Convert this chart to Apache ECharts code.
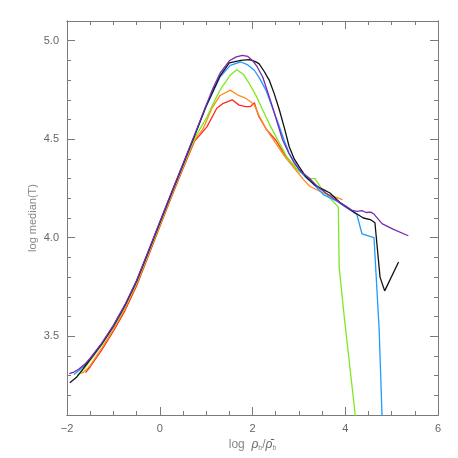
<!DOCTYPE html>
<html>
<head>
<meta charset="utf-8">
<script src="https://cdn.jsdelivr.net/npm/echarts@6/dist/echarts.min.js"></script>
<style>
html, body { margin: 0; padding: 0; background: #fff; }
#chart { width: 458px; height: 458px; }
</style>
</head>
<body>
<div id="chart"></div>
<script>
// tick labels
const xMajorTicks = [-2, 0, 2, 4, 6];
const yMajorTicks = [3.5, 4.0, 4.5, 5.0];

// curves, [log rho/mean rho, log median T]
const redLine = [
  [-1.6, 3.315], [-1.5, 3.345], [-1.25, 3.43], [-1.0, 3.525], [-0.75, 3.63], [-0.5, 3.755],
  [-0.25, 3.905], [0, 4.055], [0.25, 4.205], [0.5, 4.35], [0.75, 4.49], [0.87, 4.522], [1.02, 4.564],
  [1.23, 4.657], [1.37, 4.682], [1.56, 4.7], [1.71, 4.673], [1.85, 4.665], [1.95, 4.665],
  [2.04, 4.685], [2.1, 4.64], [2.14, 4.614], [2.3, 4.55], [2.5, 4.496], [2.7, 4.42], [2.96, 4.345]
];
const orangeLine = [
  [-1.72, 3.31], [-1.64, 3.318], [-1.55, 3.338], [-1.5, 3.352], [-1.25, 3.44], [-1.0, 3.535],
  [-0.75, 3.64], [-0.5, 3.764], [-0.25, 3.912], [0, 4.062], [0.25, 4.21], [0.5, 4.356], [0.75, 4.495],
  [0.94, 4.555], [1.12, 4.655], [1.3, 4.722], [1.52, 4.749], [1.7, 4.722], [1.85, 4.708], [1.96, 4.69],
  [2.04, 4.673], [2.14, 4.62], [2.3, 4.55], [2.5, 4.48], [2.7, 4.41], [2.96, 4.336], [3.1, 4.295],
  [3.24, 4.26], [3.53, 4.227], [3.75, 4.21], [3.94, 4.193]
];
const greenLine = [
  [-1.78, 3.302], [-1.7, 3.315], [-1.6, 3.345], [-1.5, 3.376], [-1.25, 3.455], [-1.0, 3.545],
  [-0.75, 3.65], [-0.5, 3.772], [-0.25, 3.92], [0, 4.07], [0.25, 4.218], [0.5, 4.364], [0.75, 4.505],
  [0.9, 4.565], [1.02, 4.614], [1.15, 4.68], [1.3, 4.749], [1.52, 4.825], [1.66, 4.853], [1.8, 4.83],
  [1.93, 4.783], [2.08, 4.72], [2.22, 4.648], [2.4, 4.56], [2.58, 4.48], [2.74, 4.41], [2.96, 4.345],
  [3.21, 4.3], [3.35, 4.3], [3.5, 4.244], [3.85, 4.155], [3.87, 3.848], [3.98, 3.594], [4.23, 3.07]
];
const blueLine = [
  [-1.85, 3.305], [-1.75, 3.325], [-1.6, 3.356], [-1.5, 3.383], [-1.25, 3.461], [-1.0, 3.551],
  [-0.75, 3.656], [-0.5, 3.779], [-0.25, 3.926], [0, 4.076], [0.25, 4.224], [0.5, 4.37], [0.75, 4.518],
  [1.0, 4.665], [1.3, 4.816], [1.52, 4.875], [1.75, 4.892], [1.9, 4.877], [2.04, 4.85], [2.15, 4.81],
  [2.29, 4.749], [2.43, 4.66], [2.58, 4.564], [2.69, 4.49], [2.79, 4.43], [2.9, 4.385], [3.0, 4.345],
  [3.15, 4.305], [3.29, 4.278], [3.53, 4.219], [3.82, 4.185], [4.03, 4.152], [4.25, 4.118],
  [4.36, 4.02], [4.62, 4.0], [4.73, 3.54], [4.8, 3.05]
];
const blackLine = [
  [-1.94, 3.264], [-1.8, 3.29], [-1.65, 3.335], [-1.5, 3.383], [-1.25, 3.461], [-1.0, 3.551],
  [-0.75, 3.656], [-0.5, 3.779], [-0.25, 3.926], [0, 4.076], [0.25, 4.224], [0.5, 4.37], [0.75, 4.518],
  [1.0, 4.668], [1.3, 4.822], [1.5, 4.888], [1.75, 4.9], [1.93, 4.904], [2.05, 4.895], [2.14, 4.884],
  [2.25, 4.845], [2.36, 4.8], [2.47, 4.73], [2.58, 4.648], [2.69, 4.555], [2.79, 4.463], [2.9, 4.4],
  [3.0, 4.362], [3.15, 4.31], [3.33, 4.27], [3.45, 4.253], [3.53, 4.244], [3.67, 4.227],
  [3.89, 4.177], [4.1, 4.143], [4.39, 4.1], [4.54, 4.092], [4.64, 4.076], [4.75, 3.8],
  [4.85, 3.73], [5.15, 3.877]
];
const purpleLine = [
  [-1.95, 3.31], [-1.85, 3.318], [-1.75, 3.332], [-1.6, 3.362], [-1.5, 3.388], [-1.25, 3.465],
  [-1.0, 3.555], [-0.75, 3.66], [-0.5, 3.783], [-0.25, 3.93], [0, 4.08], [0.25, 4.228], [0.5, 4.374],
  [0.75, 4.522], [1.0, 4.672], [1.15, 4.76], [1.3, 4.835], [1.5, 4.898], [1.65, 4.918], [1.78, 4.926],
  [1.9, 4.92], [2.0, 4.9], [2.1, 4.868], [2.22, 4.816], [2.32, 4.745], [2.43, 4.665], [2.54, 4.58],
  [2.65, 4.496], [2.78, 4.43], [2.9, 4.379], [3.05, 4.335], [3.22, 4.303], [3.4, 4.26], [3.58, 4.227],
  [3.76, 4.198], [3.96, 4.168], [4.14, 4.14], [4.25, 4.134], [4.36, 4.137], [4.45, 4.128], [4.55, 4.13],
  [4.62, 4.12], [4.72, 4.092], [4.8, 4.07], [5.04, 4.042], [5.36, 4.01]
];

const gray = '#7a7a7a';
const labelFont = 'Liberation Sans, Arial, sans-serif';

function fmtX(v) { return v < 0 ? '\u2212' + (-v) : String(v); }

// minor / major tick axes, drawn on top of each other
function xAx(pos, major) {
  return {
    type: 'value', position: pos, min: -2, max: 6, interval: major ? 2 : 0.5,
    axisLine: { show: true, onZero: false, lineStyle: { color: gray, width: 1 } },
    axisTick: { show: true, inside: true, length: major ? 8 : 4, lineStyle: { color: gray } },
    axisLabel: { show: major && pos === 'bottom', color: '#666', fontSize: 11, fontFamily: labelFont, margin: 8, formatter: fmtX },
    splitLine: { show: false }
  };
}
function yAx(pos, major) {
  const ax = {
    type: 'value', position: pos, min: 3.1, max: 5.1, interval: 0.1,
    axisLine: { show: true, onZero: false, lineStyle: { color: gray, width: 1 } },
    axisTick: { show: true, inside: true, length: major ? 8 : 4, lineStyle: { color: gray } },
    axisLabel: { show: false },
    splitLine: { show: false }
  };
  if (major) {
    ax.axisTick.customValues = yMajorTicks;
    ax.axisLabel = { show: pos === 'left', customValues: yMajorTicks, color: '#666', fontSize: 11,
      fontFamily: labelFont, margin: 8, formatter: v => v.toFixed(1) };
  }
  return ax;
}

const xAxes = [xAx('bottom', false), xAx('bottom', true), xAx('top', false), xAx('top', true)];
xAxes[1].name = '{t|log  }{g|\u03c1}{s|b}{t|/}{g|\u03c1\u0304}{s|b}';
xAxes[1].nameLocation = 'middle';
xAxes[1].nameGap = 22;
xAxes[1].nameTextStyle = {
  rich: {
    t: { fontSize: 12, color: '#888', fontFamily: labelFont },
    g: { fontSize: 12, color: '#666', fontFamily: labelFont, fontStyle: 'italic' },
    s: { fontSize: 7, color: '#888', fontFamily: labelFont, padding: [6, 0, 0, 0] }
  }
};
const yAxes = [yAx('left', false), yAx('left', true), yAx('right', false), yAx('right', true)];
yAxes[1].name = 'log median(T)';
yAxes[1].nameLocation = 'middle';
yAxes[1].nameGap = 29;
yAxes[1].nameMoveOverlap = false;
yAxes[1].nameTextStyle = { fontSize: 11, color: '#888', fontFamily: labelFont };

const curves = [
  { data: redLine, color: '#ff2a1a' },
  { data: orangeLine, color: '#ff8c1e' },
  { data: greenLine, color: '#7fe81e' },
  { data: blueLine, color: '#1e9bff' },
  { data: blackLine, color: '#111111' },
  { data: purpleLine, color: '#7a2ab0' }
];

const chart = echarts.init(document.getElementById('chart'));
chart.setOption({
  animation: false,
  backgroundColor: '#fff',
  grid: { left: 67, right: 20, top: 21, bottom: 43 },
  xAxis: xAxes,
  yAxis: yAxes,
  series: curves.map(c => ({
    type: 'line', xAxisIndex: 0, yAxisIndex: 0, data: c.data, showSymbol: false,
    clip: true, lineStyle: { color: c.color, width: 1.3 }, itemStyle: { color: c.color }
  }))
});
</script>
</body>
</html>
